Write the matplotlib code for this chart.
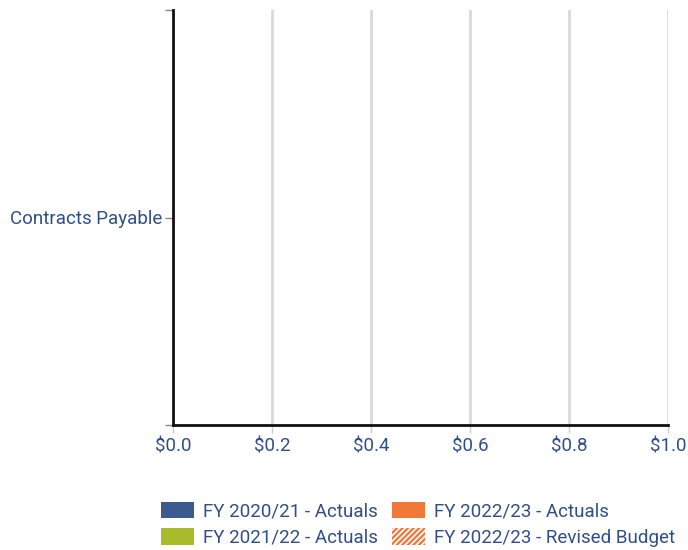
import matplotlib
matplotlib.use("Agg")
import matplotlib.pyplot as plt
from matplotlib.patches import Patch
import numpy as np

plt.rcParams['font.family'] = ['Roboto', 'DejaVu Sans']
plt.rcParams['hatch.linewidth'] = 1.2

categories = ["Contracts Payable"]
series = ["FY 2020/21 - Actuals", "FY 2021/22 - Actuals",
          "FY 2022/23 - Actuals", "FY 2022/23 - Revised Budget"]
values = {
    "FY 2020/21 - Actuals": [0],
    "FY 2021/22 - Actuals": [0],
    "FY 2022/23 - Actuals": [0],
    "FY 2022/23 - Revised Budget": [0],
}
x_ticks = [0.0, 0.2, 0.4, 0.6, 0.8, 1.0]

colors = ["#3b5b8e", "#a9ba2b", "#f07838", "#f07838"]
hatches = [None, None, None, "//////"]
text_color = "#2f4f8a"
fs = 13.5

fig = plt.figure(figsize=(6.88, 5.5), dpi=100)
ax = fig.add_axes([173 / 688, 125 / 550, 495 / 688, 415 / 550])

y = np.arange(len(categories))
h = 0.2
for i, s in enumerate(series):
    ax.barh(y + (i - 1.5) * h, values[s], height=h, color=colors[i],
            hatch=hatches[i], edgecolor='white' if hatches[i] else colors[i], linewidth=0)

ax.set_xlim(0, 1.0)
ax.set_ylim(0.5, -0.5)
ax.set_xticks(x_ticks)
ax.set_xticklabels([f"${t:.1f}" for t in x_ticks], color=text_color, fontsize=fs)
ax.set_yticks(y)
ax.set_yticklabels(categories, color=text_color, fontsize=fs)
ax.set_yticks([-0.5, 0.5], minor=True)
ax.tick_params(axis='y', which='both', length=6, color='#888888', width=1, pad=2)
ax.tick_params(axis='x', length=6, color='#cccccc', width=1, pad=3)

ax.grid(axis='x', color='#d9d9d9', linewidth=2)
ax.set_axisbelow(True)
for side in ['top', 'right']:
    ax.spines[side].set_visible(False)
ax.spines['left'].set_linewidth(2)
ax.spines['bottom'].set_linewidth(2)
ax.spines['left'].set_color('#111111')
ax.spines['bottom'].set_color('#111111')

handles = [Patch(facecolor=colors[i], edgecolor='white' if hatches[i] else colors[i],
                 hatch=hatches[i], linewidth=0) for i in range(len(series))]
fig.legend(handles, series, loc='center', bbox_to_anchor=(0.6076, 0.047),
           ncol=2, frameon=False, fontsize=fs, labelcolor=text_color,
           handlelength=1.75, handleheight=1.0, columnspacing=0.8, handletextpad=0.45,
           labelspacing=0.4, borderpad=0)

fig.savefig("out.png", dpi=100)
